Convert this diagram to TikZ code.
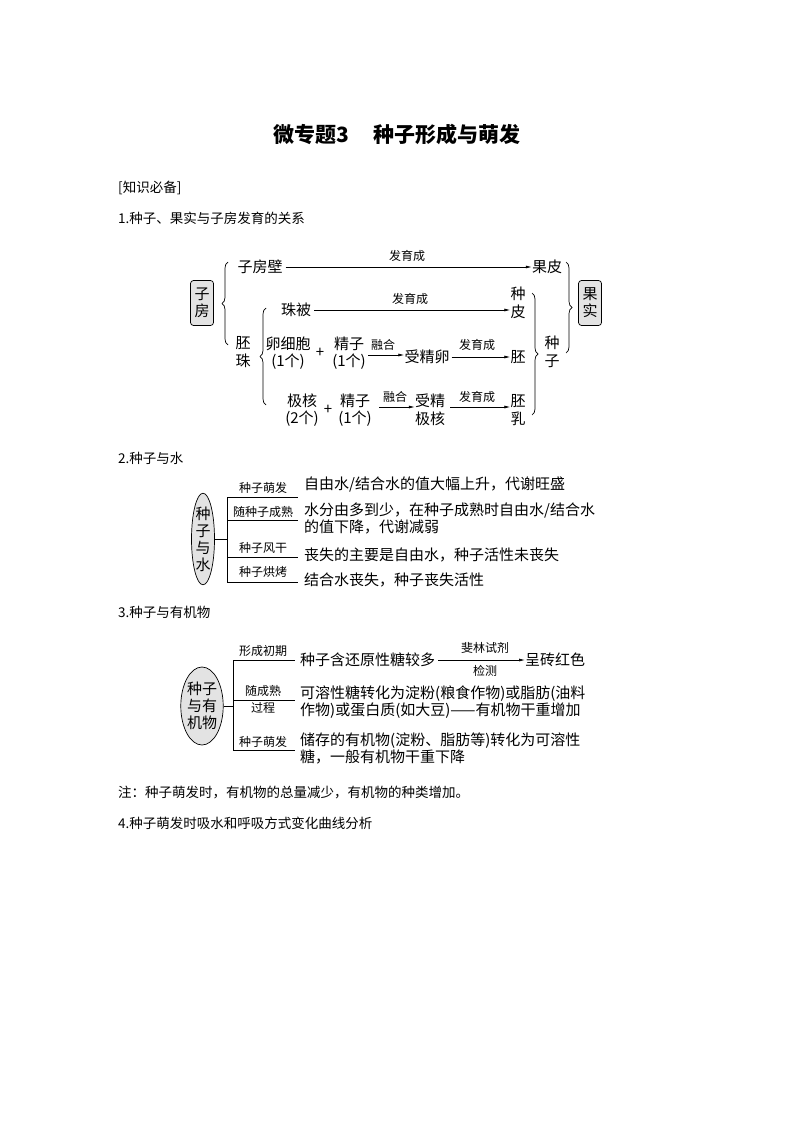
\documentclass[tikz,border=0pt]{standalone}
\usepackage{fontspec}
\setmainfont{Noto Sans CJK SC}
\usetikzlibrary{arrows.meta,decorations.pathreplacing,shapes.geometric}
\begin{document}
\begin{tikzpicture}[x=1pt,y=-1pt,
  t/.style={inner sep=0pt,font=\fontsize{15}{17.5}\selectfont},
  s/.style={inner sep=0pt,font=\fontsize{12}{13}\selectfont},
  h/.style={inner sep=0pt,anchor=west,font=\fontsize{13.5}{15}\selectfont},
  arr/.style={line width=0.7pt,-{Latex[length=6pt,width=3pt]}},
  ln/.style={line width=0.7pt},
  br/.style={line width=0.7pt,decorate,decoration={brace,amplitude=6pt}},
  gbox/.style={draw,line width=0.7pt,rounded corners=3pt,fill=gray!22,minimum width=23pt,minimum height=45pt,inner sep=1pt,align=center,font=\fontsize{15}{17}\selectfont},
  ell/.style={draw,line width=0.7pt,ellipse,fill=gray!22,align=center,inner sep=0pt,font=\fontsize{15}{17}\selectfont}]
\useasboundingbox (0,0) rectangle (794,1123);
\node[inner sep=0pt,font=\fontsize{21}{24}\selectfont\bfseries] (title) at (397,135) {微专题3\hspace{1.2em}种子形成与萌发};
\node[h] (k) at (118,188) {[知识必备]};
\node[h] (h1) at (118,218) {1.种子、果实与子房发育的关系};
% diagram 1
\node[gbox] (zf) at (202,303) {子\\房};
\draw[br] (228,345) -- (228,262);
\node[t] (zfb) at (260,267) {子房壁};
\node[t] (gp) at (547,267) {果皮};
\draw[arr] (zfb.east) ++(3,0) coordinate (a1) -- (a1 -| gp.west);
\node[s] (l1) at (407,256) {发育成};
\node[t,align=center] (pz) at (243,352) {胚\\珠};
\draw[br] (266,405) -- (266,308);
\node[t] (zb) at (296,310) {珠被};
\node[t,align=center] (zp) at (518,303) {种\\皮};
\draw[arr] (zb.east) ++(3,0) coordinate (a2) -- (a2 -| zp.west);
\node[s] (l2) at (410,299) {发育成};
\node[t,align=center] (lxb) at (288,353) {卵细胞\\(1个)};
\node[t] (p1) at (320,353) {+};
\node[t,align=center] (jz1) at (349,353) {精子\\(1个)};
\node[t] (sjl) at (427,357) {受精卵};
\node[t] (pei) at (518,357) {胚};
\coordinate (c1) at (368,355);
\draw[arr] (c1) -- (c1 -| sjl.west);
\node[s] (l3) at (383,345) {融合};
\coordinate (c2) at ([xshift=2pt]sjl.east);
\draw[arr] (c2) -- (c2 -| pei.west);
\node[s] (l4) at (477,345) {发育成};
\node[t,align=center] (jh) at (302,410) {极核\\(2个)};
\node[t] (p2) at (328,410) {+};
\node[t,align=center] (jz2) at (355,410) {精子\\(1个)};
\node[t,align=center] (sjjh) at (430,410) {受精\\极核};
\node[t,align=center] (pr) at (518,410) {胚\\乳};
\coordinate (c3) at (379,407);
\draw[arr] (c3) -- (c3 -| sjjh.west);
\node[s] (l5) at (395,397) {融合};
\coordinate (c4) at (450,407);
\draw[arr] (c4) -- (c4 -| pr.west);
\node[s] (l6) at (477,397) {发育成};
\draw[br] (532,293) -- (532,415);
\node[t,align=center] (zz) at (552,352) {种\\子};
\draw[br] (566,262) -- (566,353);
\node[gbox] (gs) at (590,303) {果\\实};
% diagram 2
\node[h] (h2) at (118,458) {2.种子与水};
\node[ell,minimum width=23pt,minimum height=88pt] (e2) at (203,539) {种\\子\\与\\水};
\draw[ln] (e2.east) -- (227,539) coordinate (v2);
\draw[ln] (227,497) -- (227,582);
\foreach \y in {497,520,557,582} \draw[ln] (227,\y) -- (298,\y);
\node[s] (w1) at (263,488) {种子萌发};
\node[s] (w2) at (263,512) {随种子成熟};
\node[s] (w3) at (263,548) {种子风干};
\node[s] (w4) at (263,572) {种子烘烤};
\node[t,anchor=west] (r1) at (304,485) {自由水/结合水的值大幅上升，代谢旺盛};
\node[t,anchor=north west,align=left] (r2) at (304,503) {水分由多到少，在种子成熟时自由水/结合水\\[-1pt]的值下降，代谢减弱};
\node[t,anchor=west] (r3) at (304,555) {丧失的主要是自由水，种子活性未丧失};
\node[t,anchor=west] (r4) at (304,580) {结合水丧失，种子丧失活性};
% diagram 3
\node[h] (h3) at (118,612) {3.种子与有机物};
\node[ell,minimum width=40pt,minimum height=78pt] (e3) at (202,706) {种子\\与有\\机物};
\draw[ln] (e3.east) -- (233,706);
\draw[ln] (233,660) -- (233,750);
\foreach \y in {660,700,750} \draw[ln] (233,\y) -- (295,\y);
\node[s] (o1) at (263,651) {形成初期};
\node[s] (o2) at (263,691) {随成熟};
\node[s] (o3) at (263,708) {过程};
\node[s] (o4) at (263,742) {种子萌发};
\node[t,anchor=west] (q1) at (300,660) {种子含还原性糖较多};
\node[t,anchor=west] (q1b) at (525,660) {呈砖红色};
\draw[arr] ([xshift=3pt]q1.east) -- (q1b.west);
\node[s] (fl) at (485,648) {斐林试剂};
\node[s] (jc) at (485,671) {检测};
\node[t,anchor=north west,align=left] (q2) at (300,686) {可溶性糖转化为淀粉(粮食作物)或脂肪(油料\\[-1pt]作物)或蛋白质(如大豆)——有机物干重增加};
\node[t,anchor=north west,align=left] (q3) at (300,733) {储存的有机物(淀粉、脂肪等)转化为可溶性\\[-1pt]糖，一般有机物干重下降};
\node[h] (note) at (118,793) {注：种子萌发时，有机物的总量减少，有机物的种类增加。};
\node[h] (h4) at (118,823) {4.种子萌发时吸水和呼吸方式变化曲线分析};
\end{tikzpicture}
\end{document}
